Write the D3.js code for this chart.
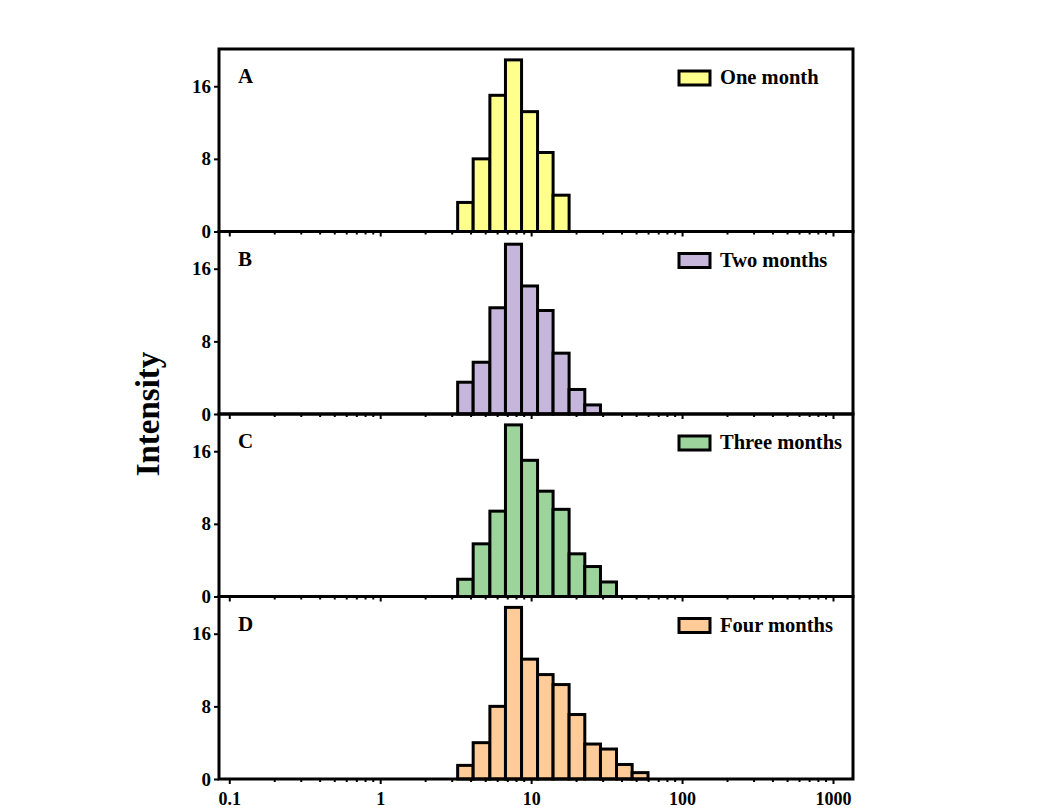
<!DOCTYPE html>
<html>
<head>
<meta charset="utf-8">
<script src="https://cdn.jsdelivr.net/npm/d3@7"></script>
<style>
  body { margin: 0; background: #fff; }
  text { font-family: "Liberation Serif", "Times New Roman", serif; font-weight: bold; fill: #000; }
</style>
</head>
<body>
<div id="chart"></div>
<script>
// bin edges (nm, log spaced)
const binEdges = [3.26, 4.13, 5.33, 6.76, 8.64, 11.03, 13.98, 17.85, 22.68, 28.8, 36.78, 46.7, 59.5];

const panelLabels = ['A', 'B', 'C', 'D'];
const legendNames = ['One month', 'Two months', 'Three months', 'Four months'];
const fillColors = ['#ffff8c', '#c6b6dc', '#9cd49c', '#ffcc99'];

const valuesA = [3.2, 8.0, 15.0, 18.9, 13.2, 8.7, 4.0];
const valuesB = [3.5, 5.7, 11.7, 18.7, 14.1, 11.4, 6.7, 2.7, 1.0];
const valuesC = [1.9, 5.8, 9.4, 18.9, 15.0, 11.6, 9.6, 4.7, 3.3, 1.6];
const valuesD = [1.5, 4.0, 8.0, 18.9, 13.2, 11.5, 10.4, 7.1, 3.85, 3.3, 1.6, 0.7];

const yTicks = [0, 8, 16];
const xTicks = [0.1, 1, 10, 100, 1000];

const allValues = [valuesA, valuesB, valuesC, valuesD];

const width = 1049, height = 810,
  plotLeft = 219, plotRight = 853,
  plotTop = 49, panelH = 182.5;

const svg = d3.select('#chart').append('svg')
  .attr('width', width)
  .attr('height', height);

const x = d3.scaleLog()
  .domain([0.0855, 1357])
  .range([plotLeft, plotRight]);

// minor ticks 2..9 for every decade
const minorTicks = [];
[0.1, 1, 10, 100].forEach(d => {
  for (let k = 2; k <= 9; k++) minorTicks.push(d * k);
});

allValues.forEach((vals, i) => {
  const y0 = plotTop + i * panelH,
    y1 = y0 + panelH;
  const y = d3.scaleLinear().domain([0, 20.1]).range([y1, y0]);
  const g = svg.append('g');

  // bars
  g.selectAll('rect.bar')
    .data(vals)
    .enter()
    .append('rect')
      .attr('class', 'bar')
      .attr('x', (d, j) => x(binEdges[j]))
      .attr('width', (d, j) => x(binEdges[j + 1]) - x(binEdges[j]))
      .attr('y', d => y(d))
      .attr('height', d => y(0) - y(d))
      .attr('fill', fillColors[i])
      .attr('stroke', '#000')
      .attr('stroke-width', 3);

  // y axis
  const yAxis = d3.axisLeft(y).tickValues(yTicks).tickSize(5).tickPadding(3).tickFormat(d3.format('d'));
  const ya = g.append('g')
    .attr('transform', 'translate(' + plotLeft + ',0)')
    .call(yAxis);
  ya.select('.domain').remove();
  ya.selectAll('line').attr('stroke-width', 2);
  ya.selectAll('text').style('font-size', '19px');

  // x ticks below each panel
  const xa = g.append('g')
    .attr('transform', 'translate(0,' + y1 + ')')
    .call(d3.axisBottom(x).tickValues(xTicks).tickSize(5).tickFormat(i === 3 ? d => String(d) : ''));
  xa.select('.domain').remove();
  xa.selectAll('line').attr('stroke-width', 2);
  xa.selectAll('text').style('font-size', '18px').attr('dy', '1.0em');

  g.append('g')
    .selectAll('line')
    .data(minorTicks)
    .enter()
    .append('line')
      .attr('x1', d => x(d)).attr('x2', d => x(d))
      .attr('y1', y1).attr('y2', y1 + 3)
      .attr('stroke', '#000')
      .attr('stroke-width', 2);

  // frame
  g.append('rect')
    .attr('x', plotLeft).attr('y', y0)
    .attr('width', plotRight - plotLeft).attr('height', panelH)
    .attr('fill', 'none')
    .attr('stroke', '#000')
    .attr('stroke-width', 3);

  // panel letter
  g.append('text')
    .attr('x', 238).attr('y', y0 + 34)
    .style('font-size', '21px')
    .text(panelLabels[i]);

  // legend
  g.append('rect')
    .attr('x', 679).attr('y', y0 + 22)
    .attr('width', 31).attr('height', 14)
    .attr('fill', fillColors[i])
    .attr('stroke', '#000')
    .attr('stroke-width', 3);
  g.append('text')
    .attr('x', 720).attr('y', y0 + 35)
    .style('font-size', '20.5px')
    .text(legendNames[i]);
});

svg.append('text')
  .attr('transform', 'translate(159,' + (plotTop + 2 * panelH) + ') rotate(-90)')
  .attr('text-anchor', 'middle')
  .style('font-size', '33px')
  .text('Intensity');
</script>
</body>
</html>
